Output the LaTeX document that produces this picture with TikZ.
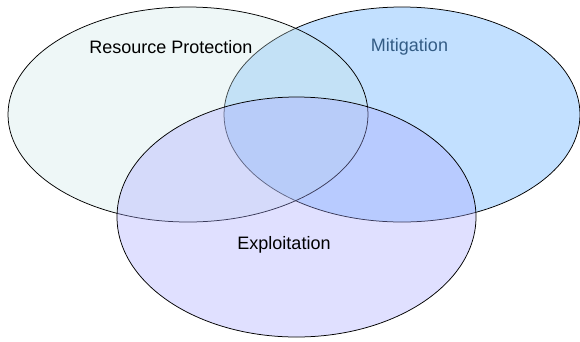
\documentclass[tikz,border=0pt]{standalone}
\usepackage{fontspec}
\setmainfont{Liberation Sans}
\usepackage{tikz}
\usetikzlibrary{shapes.geometric}
\definecolor{mitfill}{RGB}{194,224,255}
\definecolor{resfill}{RGB}{200,229,229}
\definecolor{expfill}{RGB}{166,166,255}
\definecolor{mittext}{RGB}{51,92,133}
\tikzstyle{setbox} = [ellipse, draw=black, line width=0.75pt, inner sep=0pt]
\tikzstyle{mitset} = [setbox, fill=mitfill, minimum width=356pt, minimum height=215pt]
\tikzstyle{resset} = [setbox, fill=resfill, fill opacity=0.31, minimum width=360pt, minimum height=215pt]
\tikzstyle{expset} = [setbox, fill=expfill, fill opacity=0.35, minimum width=359pt, minimum height=240pt]
\tikzstyle{setlabel} = [font=\fontsize{18}{22}\selectfont, text=black]

\begin{document}
\begin{tikzpicture}[x=1pt,y=1pt]
\useasboundingbox (0,0) rectangle (580,-341);
% the three sets
\node (mit) [mitset] at (402,-114.5) {};
\node (res) [resset] at (188,-114.5) {};
\node (exp) [expset] at (296.5,-217) {};
% labels
\node (reslabel) [setlabel] at (171,-47) {Resource Protection};
\node (mitlabel) [setlabel, text=mittext] at (409.5,-47) {Mitigation};
\node (explabel) [setlabel] at (284,-245) {Exploitation};
\end{tikzpicture}
\end{document}
